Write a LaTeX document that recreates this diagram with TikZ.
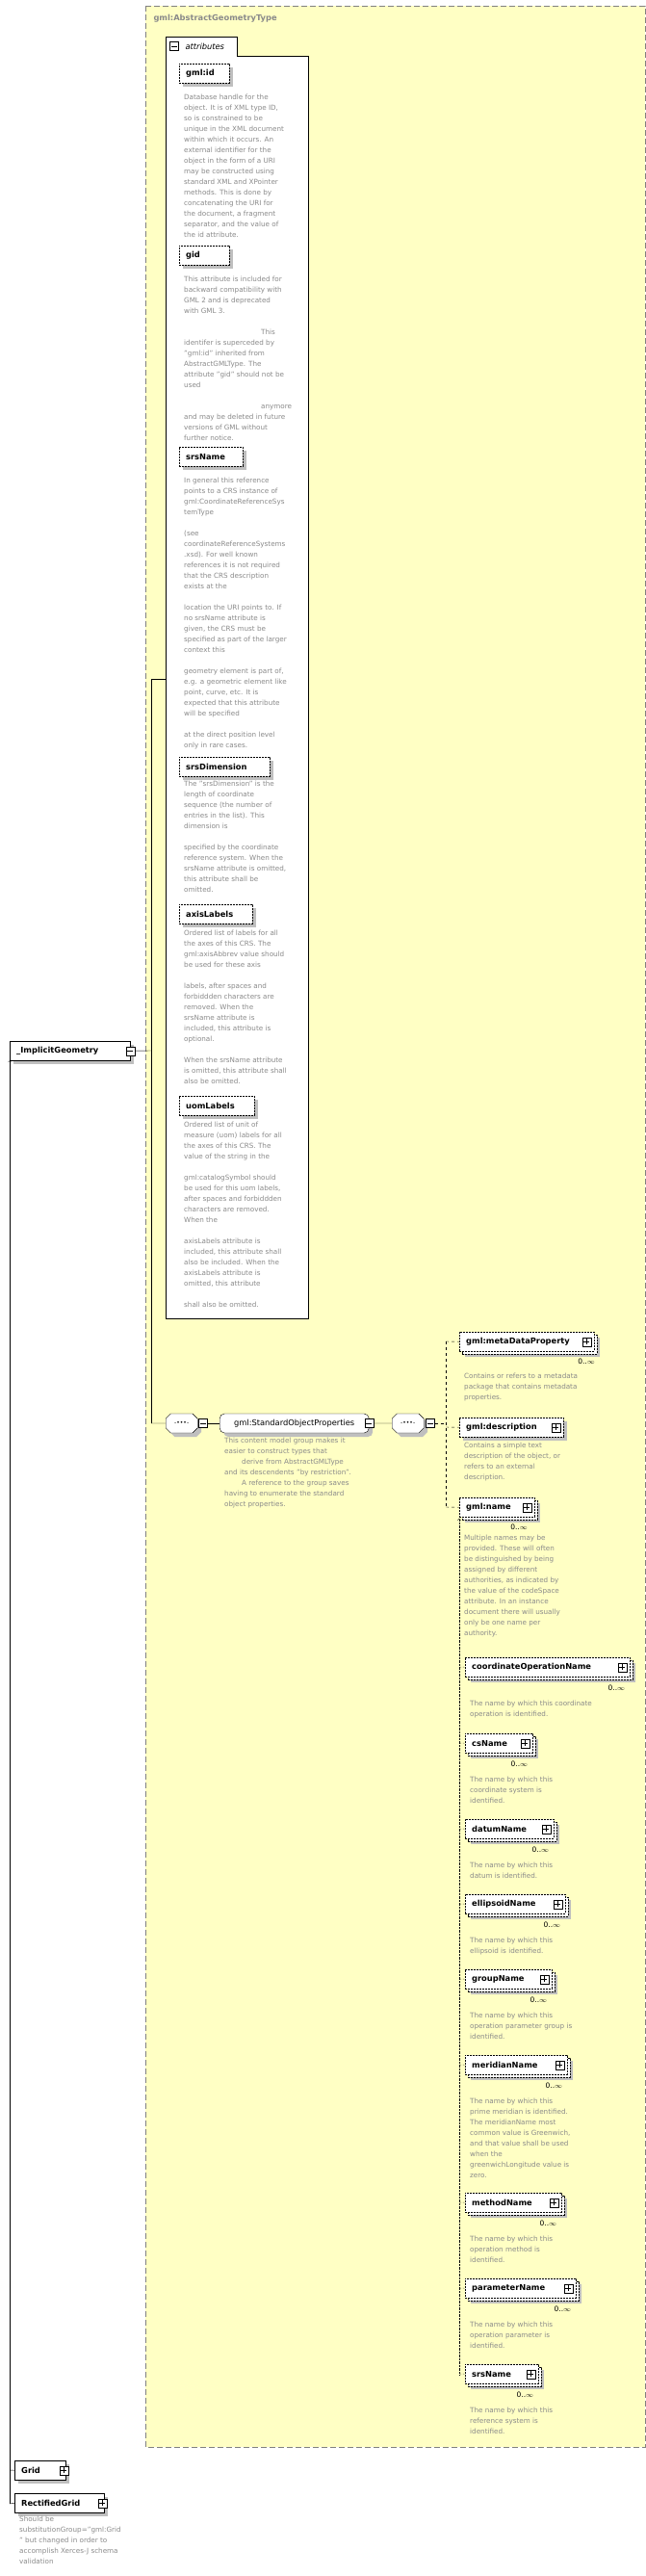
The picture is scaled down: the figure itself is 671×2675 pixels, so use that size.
\documentclass[tikz,border=0pt]{standalone}
\usepackage{fontspec}
\setmainfont{DejaVu Sans}
\usetikzlibrary{shapes.misc,shadows}
\definecolor{yel}{HTML}{FFFFC4}
\definecolor{txg}{HTML}{8A8A8A}
\tikzset{
  elem/.style={draw, dash pattern=on 2pt off 1pt, fill=white, anchor=north west,
    font=\bfseries\fontsize{8.3}{10}\selectfont, minimum height=20pt, inner xsep=7pt,
    inner ysep=0pt, align=left, general shadow={fill=black!25, shadow xshift=4pt, shadow yshift=-4pt}},
  multi/.style={general shadow={fill=black!25, shadow xshift=6pt, shadow yshift=-6pt},
    general shadow={draw, thin, dash pattern=on 2pt off 1pt, fill=white, shadow xshift=3pt, shadow yshift=-3pt}},
  solidel/.style={elem, solid},
  desc/.style={anchor=north west, align=left, text=txg, inner sep=0pt,
    font=\fontsize{7.2}{11}\selectfont},
  occ/.style={anchor=north east, inner sep=0pt, font=\fontsize{7.5}{9}\selectfont},
  pbx/.style={draw, solid, fill=white, minimum size=9pt, inner sep=0pt,
    path picture={\draw ([xshift=1.5pt]path picture bounding box.west) -- ([xshift=-1.5pt]path picture bounding box.east);
                  \draw ([yshift=-1.5pt]path picture bounding box.north) -- ([yshift=1.5pt]path picture bounding box.south);}},
  mbx/.style={draw, solid, fill=white, minimum size=9pt, inner sep=0pt,
    path picture={\draw ([xshift=1.5pt]path picture bounding box.west) -- ([xshift=-1.5pt]path picture bounding box.east);}},
  seqbox/.style={draw, fill=white, chamfered rectangle, chamfered rectangle xsep=4pt,
    minimum width=33pt, minimum height=20pt, inner sep=0pt, font=\fontsize{6}{6}\selectfont,
    general shadow={fill=black!25, shadow xshift=4pt, shadow yshift=-4pt}},
  grpbox/.style={draw, fill=white, rounded corners=5pt, minimum height=20pt, minimum width=155pt,
    font=\fontsize{8.3}{10}\selectfont, general shadow={fill=black!25, shadow xshift=4pt, shadow yshift=-4pt}},
}
\newcommand\seqdots{-\textbullet\textbullet\textbullet-}
\begin{document}
\begin{tikzpicture}[x=1pt,y=-1pt]
  \useasboundingbox (0,0) rectangle (671,2675);

  % complex type area
  \draw [fill=yel, draw=gray, dash pattern=on 6pt off 3pt] (151,6) rectangle (670,2541);
  \node [anchor=west, text=txg, font=\bfseries\fontsize{8.3}{10}\selectfont] (title) at (156,19) {gml:AbstractGeometryType};

  % attributes
  \draw [fill=white] (172,1369) -- (172,38) -- (246,38) -- (246,58) -- (320,58) -- (320,1369) -- cycle;
  \node [mbx] (attmin) at (181,48) {};
  \node [anchor=west, font=\itshape\fontsize{8.3}{10}\selectfont] (atttxt) at (189,48) {attributes};

  \node [elem, text width=38pt] (gmlid) at (186,66) {gml:id};
  \node [desc] (gmlidD) at (191,98) {Database handle for the\\object.  It is of XML type ID,\\so is constrained to be\\unique in the XML document\\within which it occurs.  An\\external identifier for the\\object in the form of a URI\\may be constructed using\\standard XML and XPointer\\methods.  This is done by\\concatenating the URI for\\the document, a fragment\\separator, and the value of\\the id attribute.};
  \node [elem, text width=38pt] (gid) at (186,255) {gid};
  \node [desc] (gidD) at (191,287) {This attribute is included for\\backward compatibility with\\GML 2 and is deprecated\\with GML 3.\\[11pt]\hspace*{80pt}This\\identifer is superceded by\\"gml:id" inherited from\\AbstractGMLType. The\\attribute "gid" should not be\\used\\[11pt]\hspace*{80pt}anymore\\and may be deleted in future\\versions of GML without\\further notice.};
  \node [elem, text width=52pt] (srsname) at (186,464) {srsName};
  \node [desc] (srsnameD) at (191,496) {In general this reference\\points to a CRS instance of\\gml:CoordinateReferenceSys\\temType\\[11pt](see\\coordinateReferenceSystems\\.xsd). For well known\\references it is not required\\that the CRS description\\exists at the\\[11pt]location the URI points to. If\\no srsName attribute is\\given, the CRS must be\\specified as part of the larger\\context this\\[11pt]geometry element is part of,\\e.g. a geometric element like\\point, curve, etc. It is\\expected that this attribute\\will be specified\\[11pt]at the direct position level\\only in rare cases.};
  \node [elem, text width=80pt] (srsdim) at (186,786) {srsDimension};
  \node [desc] (srsdimD) at (191,811) {The "srsDimension" is the\\length of coordinate\\sequence (the number of\\entries in the list). This\\dimension is\\[11pt]specified by the coordinate\\reference system. When the\\srsName attribute is omitted,\\this attribute shall be\\omitted.};
  \node [elem, text width=62pt] (axis) at (186,939) {axisLabels};
  \node [desc] (axisD) at (191,966) {Ordered list of labels for all\\the axes of this CRS. The\\gml:axisAbbrev value should\\be used for these axis\\[11pt]labels, after spaces and\\forbiddden characters are\\removed. When the\\srsName attribute is\\included, this attribute is\\optional.\\[11pt]When the srsName attribute\\is omitted, this attribute shall\\also be omitted.};
  \node [elem, text width=64pt] (uom) at (186,1138) {uomLabels};
  \node [desc] (uomD) at (191,1165) {Ordered list of unit of\\measure (uom) labels for all\\the axes of this CRS. The\\value of the string in the\\[11pt]gml:catalogSymbol should\\be used for this uom labels,\\after spaces and forbiddden\\characters are removed.\\When the\\[11pt]axisLabels attribute is\\included, this attribute shall\\also be included. When the\\axisLabels attribute is\\omitted, this attribute\\[11pt]shall also be omitted.};

  % the element itself
  \node [solidel, text width=111pt] (implicit) at (10,1081) {\_ImplicitGeometry};
  \node [mbx] (implmin) at (implicit.east) {};
  \coordinate (trunk) at (157,1091);
  \draw (implmin) -- (trunk);
  \draw (157,705) -- (172,705);
  \draw (157,705) -- (157,1478);

  % sequence and group
  \node [seqbox, anchor=west] (seq1) at (172,1478) {\seqdots};
  \node [mbx] (seq1min) at (211,1478) {};
  \node [grpbox, anchor=west] (grp) at (228,1478) {gml:StandardObjectProperties};
  \node [mbx] (grpmin) at (grp.east) {};
  \node [seqbox, anchor=west] (seq2) at (407,1478) {\seqdots};
  \node [mbx] (seq2min) at (447,1478) {};
  \draw (157,1478) -- (seq1);
  \draw (seq1min) -- (grp);
  \draw (grpmin) -- (seq2);
  \node [desc] (grpD) at (233,1493) {This content model group makes it\\easier to construct types that\\\hspace*{18pt}derive from AbstractGMLType\\and its descendents "by restriction".\\\hspace*{18pt}A reference to the group saves\\having to enumerate the standard\\object properties.};

  % standard object properties
  \node [elem, multi, text width=126pt] (meta) at (477,1383) {gml:metaDataProperty};
  \node [pbx] (metaplus) at ([xshift=-8pt]meta.east) {};
  \node [occ] (metaO) at (618,1411) {0..$\infty$};
  \node [desc] (metaD) at (482,1426) {Contains or refers to a metadata\\package that contains metadata\\properties.};
  \node [elem, text width=94pt] (descr) at (477,1472) {gml:description};
  \node [pbx] (descrplus) at ([xshift=-8pt]descr.east) {};
  \node [desc] (descrD) at (482,1498) {Contains a simple text\\description of the object, or\\refers to an external\\description.};
  \node [elem, multi, text width=64pt] (gname) at (477,1555) {gml:name};
  \node [pbx] (gnameplus) at ([xshift=-8pt]gname.east) {};
  \node [occ] (gnameO) at (548,1583) {0..$\infty$};
  \node [desc] (gnameD) at (482,1594) {Multiple names may be\\provided.  These will often\\be distinguished by being\\assigned by different\\authorities, as indicated by\\the value of the codeSpace\\attribute.  In an instance\\document there will usually\\only be one name per\\authority.};
  \draw [dashed] (seq2min) -- (463,1478);
  \draw [dashed] (463,1393) -- (463,1565);
  \draw [dashed] (463,1393) -- (meta.west);
  \draw [dashed] (463,1482) -- (descr.west);
  \draw [dashed] (463,1565) -- (gname.west);

  % substitution group of gml:name
  \draw [densely dotted, ->] (477,2466) -- (477,1577);
  \foreach \nm/\yy/\ww/\tx in {
      coordinateOperationName/1721/171/{The name by which this coordinate\\operation is identified.},
      csName/1800/70/{The name by which this\\coordinate system is\\identified.},
      datumName/1889/92/{The name by which this\\datum is identified.},
      ellipsoidName/1967/104/{The name by which this\\ellipsoid is identified.},
      groupName/2045/90/{The name by which this\\operation parameter group is\\identified.},
      meridianName/2134/106/{The name by which this\\prime meridian is identified.\\The meridianName most\\common value is Greenwich,\\and that value shall be used\\when the\\greenwichLongitude value is\\zero.},
      methodName/2277/100/{The name by which this\\operation method is\\identified.},
      parameterName/2366/115/{The name by which this\\operation parameter is\\identified.},
      srsName/2455/76/{The name by which this\\reference system is\\identified.}} {
    \pgfmathtruncatemacro\tw{\ww-14}
    \node [elem, multi, text width=\tw pt] (sub\nm) at (483,\yy) {\nm};
    \node [pbx] (sub\nm plus) at ([xshift=-8pt]sub\nm.east) {};
    \node [occ] (sub\nm O) at ([xshift=-5pt,yshift=-8pt]sub\nm.south east) {0..$\infty$};
    \node [desc] (sub\nm D) at (488,\yy+45) {\tx};
    \draw [densely dotted] (477,\yy+10) -- (sub\nm.west);
  }

  % derived elements
  \node [solidel, text width=39pt] (grid) at (15,2555) {Grid};
  \node [pbx] (gridplus) at ([xshift=-2pt]grid.east) {};
  \node [solidel, text width=79pt] (rgrid) at (15,2589) {RectifiedGrid};
  \node [pbx] (rgridplus) at ([xshift=-2pt]rgrid.east) {};
  \node [desc] (rgridD) at (20,2613) {Should be\\substitutionGroup="gml:Grid\\" but changed in order to\\accomplish Xerces-J schema\\validation};
  \draw [->] (10,2600) -- (implicit.south west);
  \draw (10,2565) -- (grid.west);
  \draw (10,2600) -- (rgrid.west);
\end{tikzpicture}
\end{document}
